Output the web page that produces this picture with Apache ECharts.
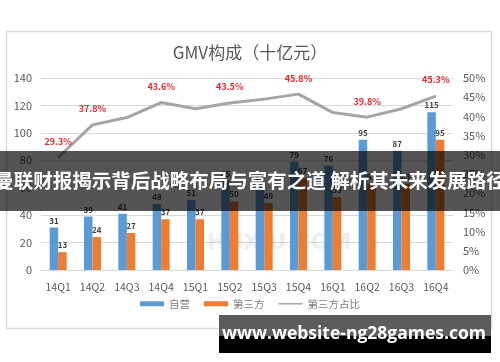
<!DOCTYPE html>
<html><head><meta charset="utf-8">
<script src="https://cdn.jsdelivr.net/npm/echarts@6/dist/echarts.min.js"></script>
<style>html,body{margin:0;padding:0;background:#fff}#c{width:500px;height:362px}</style>
</head><body><div id="c"></div>
<script>
const categories = ['14Q1','14Q2','14Q3','14Q4','15Q1','15Q2','15Q3','15Q4','16Q1','16Q2','16Q3','16Q4'];
const selfValues = [31, 39, 41, 48, 51, 65, 61, 79, 76, 95, 87, 115];
const thirdValues = [13, 24, 27, 37, 37, 50, 49, 67, 53, 63, 63, 95];
const ratioValues = [29.3, 37.8, 39.7, 43.6, 42.0, 43.5, 44.5, 45.8, 41.0, 39.8, 42.0, 45.3];
const ratioLabelShown = [true, true, false, true, false, true, false, true, false, true, false, true];
const seriesNames = ['自营', '第三方', '第三方占比'];
const titleText = 'GMV构成（十亿元）';
const bannerText = '曼联财报揭示背后战略布局与富有之道 解析其未来发展路径';
const footerText = 'www.website-ng28games.com';
const watermarkText = 'HUXIU.COM';

const FONT = '"Noto Sans CJK SC", "Noto Sans", sans-serif';
const chart = echarts.init(document.getElementById('c'), null, {renderer: 'canvas'});
const barLabel = {show: true, position: 'top', distance: 3, fontSize: 8, fontWeight: 'bold', color: '#404040', fontFamily: FONT};
chart.setOption({
  animation: false,
  textStyle: {fontFamily: FONT},
  title: {text: titleText, left: 'center', top: 39, textStyle: {fontSize: 17, fontWeight: 'normal', color: '#595959', fontFamily: FONT}},
  legend: {
    bottom: 48, left: 'center', itemWidth: 24, itemHeight: 5, itemGap: 14,
    textStyle: {fontSize: 10.5, color: '#7f7f7f', fontFamily: FONT},
    data: [
      {name: seriesNames[0], icon: 'rect'},
      {name: seriesNames[1], icon: 'rect'},
      {name: seriesNames[2], icon: 'path://M0,0L0.01,0Z M0,1.7H24V3.3H0Z M24,5L23.99,5Z', itemStyle: {color: '#A5A5A5'}}
    ]
  },
  grid: {left: 41, right: 47, top: 78, bottom: 92},
  xAxis: {
    type: 'category', data: categories,
    axisLine: {show: true, lineStyle: {color: '#D9D9D9'}}, axisTick: {show: false},
    axisLabel: {color: '#595959', fontSize: 10.5, margin: 12, interval: 0}
  },
  yAxis: [
    {type: 'value', min: 0, max: 140, interval: 20,
     axisLine: {show: false}, axisTick: {show: false},
     axisLabel: {color: '#595959', fontSize: 11, margin: 9},
     splitLine: {lineStyle: {color: '#D9D9D9'}}},
    {type: 'value', min: 0, max: 50, interval: 5,
     axisLine: {show: false}, axisTick: {show: false},
     axisLabel: {color: '#595959', fontSize: 11, margin: 10, formatter: '{value}%'},
     splitLine: {show: false}}
  ],
  series: [
    {name: seriesNames[0], type: 'bar', data: selfValues, barWidth: 8.5, barGap: '0%',
     itemStyle: {color: '#5B9BD5'}, label: barLabel},
    {name: seriesNames[1], type: 'bar', data: thirdValues, barWidth: 8.5, barGap: '0%',
     itemStyle: {color: '#ED7D31'}, label: barLabel},
    {name: seriesNames[2], type: 'line', yAxisIndex: 1, symbol: 'circle', symbolSize: 1, showSymbol: true, z: 5,
     lineStyle: {color: '#A5A5A5', width: 3}, itemStyle: {color: '#A5A5A5'},
     data: ratioValues.map((v, i) => ({value: v, label: {show: ratioLabelShown[i]}})),
     label: {show: false, position: 'top', distance: 11, fontSize: 9, fontWeight: 'bold', color: '#E8282B',
             formatter: p => Number(p.value).toFixed(1) + '%'}}
  ],
  graphic: [
    {type: 'rect', shape: {x: 6.5, y: 31.5, width: 485, height: 297}, style: {fill: 'none', stroke: '#D9D9D9', lineWidth: 1.5}, z: 0},
    {type: 'text', left: 207, top: 232, style: {text: watermarkText, fontSize: 22, fontWeight: 'bold', fill: 'rgba(0,0,0,0.07)', fontFamily: 'DejaVu Sans'}, z: 1},
    {type: 'rect', shape: {x: 0, y: 151, width: 500, height: 60}, style: {fill: 'rgba(0,0,0,0.67)'}, z: 100},
    {type: 'text', x: 250, y: 181, style: {text: bannerText, fontSize: 19.5, fontWeight: 'bold', fill: '#fff', align: 'center', verticalAlign: 'middle', fontFamily: FONT}, z: 101},
    {type: 'rect', shape: {x: 219, y: 315, width: 272, height: 21}, style: {fill: '#5c5c5c'}, z: 100},
    {type: 'rect', shape: {x: 219, y: 336, width: 272, height: 17}, style: {fill: '#000'}, z: 100},
    {type: 'text', x: 354, y: 334, style: {text: footerText, fontSize: 17.5, fontWeight: 'bold', fill: '#fff', align: 'center', verticalAlign: 'middle', fontFamily: '"Open Sans", "DejaVu Sans", sans-serif'}, z: 101}
  ]
});
</script></body></html>
